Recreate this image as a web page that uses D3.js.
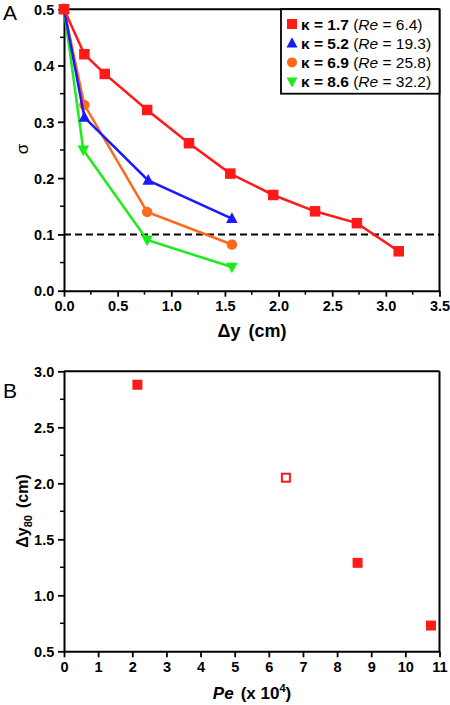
<!DOCTYPE html>
<html><head><meta charset="utf-8">
<script src="https://cdn.jsdelivr.net/npm/d3@7"></script>
<style>body{margin:0;background:#fff}svg{display:block}text{font-family:Arial,"Liberation Sans",sans-serif}</style>
</head><body>
<svg id="c" width="450" height="705"></svg>
<script>
const seriesNames = ["κ = 1.7", "κ = 5.2", "κ = 6.9", "κ = 8.6"];
const seriesRe = ["6.4", "19.3", "25.8", "32.2"];
const redX = [0, 0.19, 0.38, 0.775, 1.165, 1.55, 1.95, 2.34, 2.73, 3.12];
const redY = [0.5, 0.42, 0.385, 0.321, 0.262, 0.208, 0.17, 0.141, 0.12, 0.07];
const blueX = [0, 0.19, 0.785, 1.565];
const blueY = [0.5, 0.308, 0.196, 0.128];
const orangeX = [0, 0.19, 0.775, 1.565];
const orangeY = [0.5, 0.33, 0.14, 0.082];
const greenX = [0, 0.18, 0.775, 1.565];
const greenY = [0.5, 0.25, 0.09, 0.042];
const thresholdA = 0.1;
const xTicksA = [0, 0.5, 1, 1.5, 2, 2.5, 3, 3.5];
const yTicksA = [0, 0.1, 0.2, 0.3, 0.4, 0.5];
const peX = [2.15, 6.5, 8.6, 10.75];
const dy80 = [2.88, 2.05, 1.29, 0.73];
const peFilled = [true, false, true, true];
const xTicksB = [0,1,2,3,4,5,6,7,8,9,10,11];
const yTicksB = [0.5, 1.0, 1.5, 2.0, 2.5, 3.0];

const svg = d3.select("#c");
const L = 64, R = 439.5;
const FONT = "Arial, 'Liberation Sans', sans-serif";

const xA = d3.scaleLinear().domain([0, 3.5]).range([L, R]);
const yA = d3.scaleLinear().domain([0, 0.5]).range([290.7, 9.2]);
const gA = svg.append("g");

function axesFrame(g, x, y, xt, yt, xMinor, yMinor, xfmt, yfmt) {
  const [x0, x1] = x.range(), [y0, y1] = y.range();
  g.selectAll(null).data(xMinor).join("line")
    .attr("x1", d => x(d)).attr("x2", d => x(d)).attr("y1", y0).attr("y2", y0 + 4)
    .attr("stroke", "#000").attr("stroke-width", 1.5);
  g.selectAll(null).data(yMinor).join("line")
    .attr("y1", d => y(d)).attr("y2", d => y(d)).attr("x1", x0).attr("x2", x0 - 4)
    .attr("stroke", "#000").attr("stroke-width", 1.5);
  const xa = g.append("g").attr("transform", `translate(0,${y0})`);
  xa.call(d3.axisBottom(x).tickValues(xt).tickFormat(xfmt).tickSize(6).tickSizeOuter(0));
  const ya = g.append("g").attr("transform", `translate(${x0},0)`);
  ya.call(d3.axisLeft(y).tickValues(yt).tickFormat(yfmt).tickSize(6).tickSizeOuter(0));
  for (const a of [xa, ya]) {
    a.attr("font-size", 14.5).attr("font-weight", "bold").attr("font-family", FONT);
    a.select(".domain").attr("stroke-width", 2);
    a.selectAll(".tick line").attr("stroke-width", 1.8);
    a.selectAll(".tick text").attr("font-size", 14.5).attr("font-weight", "bold").attr("fill", "#000");
  }
  xa.selectAll(".tick text").attr("dy", "0.8em");
  ya.selectAll(".tick text").attr("dx", "-0.05em").attr("dy", "0.36em");
  g.append("line").attr("x1", x0).attr("x2", x1).attr("y1", y1).attr("y2", y1).attr("stroke", "#000").attr("stroke-width", 2);
  g.append("line").attr("x1", x1).attr("x2", x1).attr("y1", y1).attr("y2", y0).attr("stroke", "#000").attr("stroke-width", 2);
}

axesFrame(gA, xA, yA, xTicksA, yTicksA,
  d3.range(0.25, 3.5, 0.5), d3.range(0.05, 0.5, 0.1), d3.format(".1f"), d3.format(".1f"));

gA.append("line").attr("x1", xA(0)).attr("x2", xA(3.5)).attr("y1", yA(thresholdA)).attr("y2", yA(thresholdA))
  .attr("stroke", "#000").attr("stroke-width", 2).attr("stroke-dasharray", "7,4");

const series = [
  {x: redX, y: redY, color: "#ff1a1a", sym: "square"},
  {x: blueX, y: blueY, color: "#1a1aff", sym: "up"},
  {x: orangeX, y: orangeY, color: "#ff6a1a", sym: "circle"},
  {x: greenX, y: greenY, color: "#1aee1a", sym: "down"}
];

function marker(g, sym, cx, cy, color, s) {
  if (sym === "square") {
    g.append("rect").attr("x", cx - s/2).attr("y", cy - s/2).attr("width", s).attr("height", s).attr("fill", color);
  } else if (sym === "circle") {
    g.append("circle").attr("cx", cx).attr("cy", cy).attr("r", s/2).attr("fill", color);
  } else if (sym === "up") {
    g.append("path").attr("d", `M${cx},${cy - s*0.6}L${cx + s*0.55},${cy + s*0.42}L${cx - s*0.55},${cy + s*0.42}Z`).attr("fill", color);
  } else {
    g.append("path").attr("d", `M${cx},${cy + s*0.6}L${cx + s*0.55},${cy - s*0.42}L${cx - s*0.55},${cy - s*0.42}Z`).attr("fill", color);
  }
}

const line = d3.line().x(d => xA(d[0])).y(d => yA(d[1]));
[3, 2, 1, 0].forEach(i => {
  const s = series[i];
  const pts = s.x.map((v, j) => [v, s.y[j]]);
  gA.append("path").attr("d", line(pts)).attr("fill", "none").attr("stroke", s.color).attr("stroke-width", 2.5);
  pts.forEach(p => marker(gA, s.sym, xA(p[0]), yA(p[1]), s.color, 10.5));
});

const lg = gA.append("g");
lg.append("rect").attr("x", 281).attr("y", 9.2).attr("width", R - 281).attr("height", 84.5)
  .attr("fill", "#fff").attr("stroke", "#000").attr("stroke-width", 1.8);
seriesNames.forEach((n, i) => {
  const cy = 24 + i * 19.2;
  marker(lg, series[i].sym, 292, cy, series[i].color, 10);
  const t = lg.append("text").attr("x", 301).attr("y", cy + 5.5).attr("font-size", 15.5).attr("fill", "#000");
  t.append("tspan").attr("font-weight", "bold").text(n);
  t.append("tspan").text(" (");
  t.append("tspan").attr("font-style", "italic").text("Re");
  t.append("tspan").text(" = " + seriesRe[i] + ")");
});

svg.append("text").attr("x", 3).attr("y", 20).attr("font-size", 21).text("A");
svg.append("text").attr("transform", "translate(28,149) rotate(-90)").attr("text-anchor", "middle")
  .attr("font-size", 17).text("σ");
const tA = svg.append("text").attr("x", 252).attr("y", 337).attr("text-anchor", "middle")
  .attr("font-size", 18).attr("font-weight", "bold");
tA.append("tspan").text("Δy");
tA.append("tspan").attr("dx", 8).text("(cm)");

const xB = d3.scaleLinear().domain([0, 11]).range([L, R]);
const yB = d3.scaleLinear().domain([0.5, 3.0]).range([651.3, 371.3]);
const gB = svg.append("g");
axesFrame(gB, xB, yB, xTicksB, yTicksB, [], d3.range(0.75, 3.0, 0.5), d3.format("d"), d3.format(".1f"));

peX.forEach((v, i) => {
  const s = 10;
  const cx = xB(v), cy = yB(dy80[i]);
  if (peFilled[i]) gB.append("rect").attr("x", cx - s/2).attr("y", cy - s/2).attr("width", s).attr("height", s).attr("fill", "#ff1a1a");
  else gB.append("rect").attr("x", cx - s/2 + 1).attr("y", cy - s/2 + 1).attr("width", s - 2).attr("height", s - 2)
    .attr("fill", "#fff").attr("stroke", "#ff1a1a").attr("stroke-width", 2);
});

svg.append("text").attr("x", 3).attr("y", 398).attr("font-size", 21).text("B");
const tyB = svg.append("text").attr("transform", "translate(28,511) rotate(-90)").attr("text-anchor", "middle")
  .attr("font-size", 16).attr("font-weight", "bold");
tyB.append("tspan").text("Δy");
tyB.append("tspan").attr("font-size", 11).attr("dy", 4).text("80");
tyB.append("tspan").attr("dy", -4).attr("dx", 7).text("(cm)");

const txB = svg.append("text").attr("x", 252).attr("y", 699).attr("text-anchor", "middle")
  .attr("font-size", 17).attr("font-weight", "bold");
txB.append("tspan").attr("font-style", "italic").text("Pe");
txB.append("tspan").attr("dx", 7).text("(x 10");
txB.append("tspan").attr("font-size", 11).attr("dy", -7).text("4");
txB.append("tspan").attr("dy", 7).text(")");
</script>
</body></html>
